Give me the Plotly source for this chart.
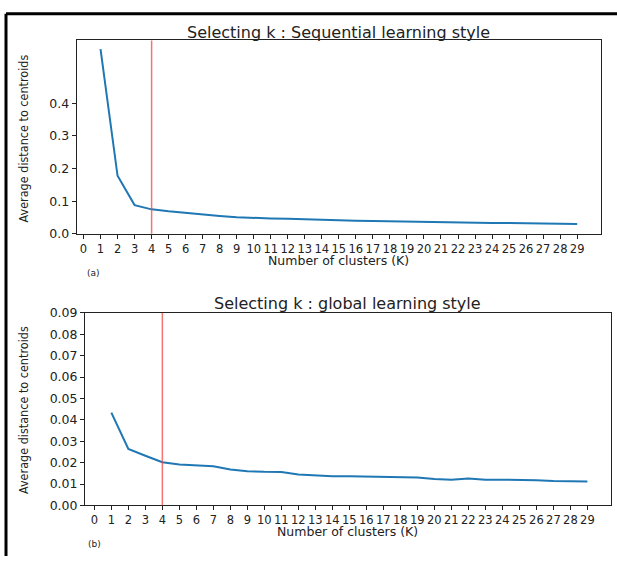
import plotly.graph_objects as go

k_values = list(range(1, 30))
seq_distance = [0.566, 0.178, 0.088, 0.075, 0.069, 0.064, 0.058, 0.055, 0.051, 0.048,
                0.047, 0.046, 0.044, 0.043, 0.042, 0.040, 0.039, 0.038, 0.038, 0.037,
                0.034, 0.034, 0.034, 0.033, 0.033, 0.032, 0.032, 0.031, 0.030]
glob_distance = [0.0434, 0.0264, 0.0232, 0.0202, 0.0191, 0.0186, 0.0183, 0.0168, 0.0160, 0.0157,
                 0.0156, 0.0145, 0.0141, 0.0136, 0.0136, 0.0134, 0.0133, 0.0130, 0.0130, 0.0123,
                 0.0120, 0.0126, 0.0120, 0.0120, 0.0120, 0.0117, 0.0114, 0.0112, 0.0112]
chosen_k = 4
x_ticks = list(range(0, 30))
seq_yticks = [0.0, 0.1, 0.2, 0.3, 0.4]
glob_yticks = [0.00, 0.01, 0.02, 0.03, 0.04, 0.05, 0.06, 0.07, 0.08, 0.09]

W, H = 617, 563
def px(x):
    return x / W
def py(y):
    return 1 - y / H

fig = go.Figure()
fig.add_trace(go.Scatter(x=k_values, y=seq_distance, mode="lines",
                         line=dict(color="#1f77b4", width=2), xaxis="x", yaxis="y", showlegend=False))
fig.add_trace(go.Scatter(x=k_values, y=glob_distance, mode="lines",
                         line=dict(color="#1f77b4", width=2), xaxis="x2", yaxis="y2", showlegend=False))

xtickfont = dict(family="DejaVu Sans", size=11.5, color="#222")
ytickfont = dict(family="DejaVu Sans", size=12.5, color="#222")
common_x = dict(tickmode="array", tickvals=x_ticks, ticktext=[str(v) for v in x_ticks],
                tickangle=0, ticks="outside", ticklen=4, tickcolor="#222", tickfont=xtickfont,
                showgrid=False, zeroline=False, showline=True, linecolor="#222", linewidth=1,
                mirror=True, fixedrange=True)
common_y = dict(ticks="outside", ticklen=4, tickcolor="#222", tickfont=ytickfont,
                showgrid=False, zeroline=False, showline=True, linecolor="#222", linewidth=1,
                mirror=True, fixedrange=True)

fig.update_layout(
    width=W, height=H, margin=dict(l=0, r=0, t=0, b=0),
    paper_bgcolor="white", plot_bgcolor="white",
    xaxis=dict(domain=[px(76.7), px(601)], range=[-0.4, 30.4], anchor="y", **common_x),
    yaxis=dict(domain=[py(232), py(33.3)], range=[0, 0.593], anchor="x",
               tickvals=seq_yticks, ticktext=["0.0", "0.1", "0.2", "0.3", "0.4"], **common_y),
    xaxis2=dict(domain=[px(85), px(610.5)], range=[-0.55, 30.36], anchor="y2", **common_x),
    yaxis2=dict(domain=[py(511), py(313.3)], range=[0, 0.09], anchor="x2",
                tickvals=glob_yticks, ticktext=["%.2f" % v for v in glob_yticks], **common_y),
)

# chosen k lines
fig.add_shape(type="line", xref="x", yref="y domain", x0=chosen_k, x1=chosen_k, y0=0, y1=1,
              line=dict(color="rgba(240,70,70,0.75)", width=1.5))
fig.add_shape(type="line", xref="x2", yref="y2 domain", x0=chosen_k, x1=chosen_k, y0=0, y1=1,
              line=dict(color="rgba(240,70,70,0.75)", width=1.5))

# outer frame (left and top)
fig.add_shape(type="line", xref="paper", yref="paper", x0=px(6), x1=px(6), y0=0, y1=py(6),
              line=dict(color="black", width=3))
fig.add_shape(type="line", xref="paper", yref="paper", x0=px(6), x1=1, y0=py(6), y1=py(6),
              line=dict(color="black", width=3))

titlefont = dict(family="DejaVu Sans", size=16, color="#222")
labfont = dict(family="DejaVu Sans", size=12.5, color="#222")
yfont = dict(family="Liberation Sans Narrow, DejaVu Sans Condensed, Arial Narrow", size=12.5, color="#222")
small = dict(family="DejaVu Sans", size=9, color="#222")

ann = [
    dict(text="Selecting k : Sequential learning style", x=px(338.8), y=py(25), font=titlefont),
    dict(text="Number of clusters (K)", x=px(338.8), y=py(259), font=labfont),
    dict(text="Average distance to centroids", x=px(23), y=py(134), font=yfont, textangle=-90),
    dict(text="(a)", x=px(93), y=py(272), font=small),
    dict(text="Selecting k : global learning style", x=px(347.7), y=py(304), font=titlefont),
    dict(text="Number of clusters (K)", x=px(347.7), y=py(538), font=labfont),
    dict(text="Average distance to centroids", x=px(24), y=py(413), font=yfont, textangle=-90),
    dict(text="(b)", x=px(94), y=py(551), font=small),
]
for a in ann:
    fig.add_annotation(xref="paper", yref="paper", showarrow=False,
                       xanchor="center", yanchor="middle", **a)

fig.write_html("out.html",
               config={"displayModeBar": False, "staticPlot": True},
               post_script="document.body.style.margin='0';document.body.style.padding='0';"
                           "document.documentElement.style.overflow='hidden';")
